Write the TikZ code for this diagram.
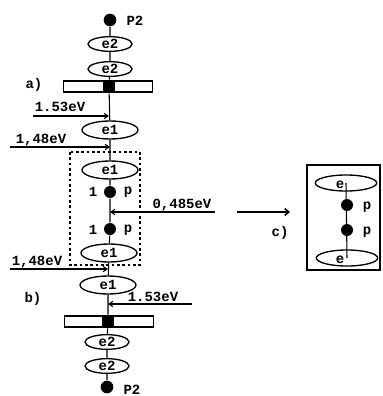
\documentclass[tikz,border=0pt]{standalone}
\usepackage{fontspec}
\setmainfont{Liberation Mono}
\usetikzlibrary{arrows.meta,shapes.geometric}
\begin{document}
\begin{tikzpicture}[x=0.75pt,y=-0.75pt,
  font=\bfseries\fontsize{10.5}{12}\selectfont,
  line width=0.8pt,
  elsmall/.style={draw,ellipse,line width=1pt,minimum width=33pt,minimum height=11pt,inner sep=0pt},
  elbig/.style={draw,ellipse,line width=1pt,minimum width=42pt,minimum height=13.5pt,inner sep=0pt},
  elright/.style={draw,ellipse,line width=1pt,minimum width=46pt,minimum height=12pt,inner sep=0pt},
  bigdot/.style={circle,fill=black,minimum size=9.5pt,inner sep=0pt},
  pdot/.style={circle,fill=black,minimum size=9pt,inner sep=0pt},
  bar/.style={draw,rectangle,line width=1pt,minimum width=66.75pt,minimum height=8.25pt,inner sep=0pt},
  sq/.style={rectangle,fill=black,minimum width=9.5pt,minimum height=9.5pt,inner sep=0pt},
  lbl/.style={inner sep=0pt},
  tip/.style={-{Straight Barb[length=3pt,width=4pt]}}
]
\useasboundingbox (0,0) rectangle (382,396);
% top chain
\node[bigdot] (P2t) at (110,20) {};
\node[lbl,anchor=west] (P2tl) at (126,21) {P2};
\node[elsmall] (e2a) at (110,44) {e2};
\node[elsmall] (e2b) at (110,69) {e2};
\node[bar] (bara) at (108,86.5) {};
\node[sq] (sqa) at (109,86.5) {};
\node[lbl] (la) at (34,85) {a)};
\node[elbig] (e1a) at (110,130) {e1};
\node[elbig] (e1b) at (110,170) {e1};
\node[pdot] (p1) at (110,192) {};
\node[lbl] (p1n) at (93,192) {1};
\node[lbl] (p1l) at (128,192) {p};
\node[pdot] (p2) at (110,229) {};
\node[lbl] (p2n) at (93,230) {1};
\node[lbl] (p2l) at (128,230) {p};
\node[elbig] (e1c) at (109,253) {e1};
\node[elbig] (e1d) at (108,285) {e1};
\node[lbl] (lb) at (33,299) {b)};
\node[bar] (barb) at (109,321.5) {};
\node[sq] (sqb) at (108,321.5) {};
\node[elsmall] (e2c) at (107,342) {e2};
\node[elsmall] (e2d) at (107,366) {e2};
\node[bigdot] (P2b) at (107,387) {};
\node[lbl,anchor=west] (P2bl) at (123,390) {P2};
% axis
\draw (P2t) -- (e2a) -- (e2b) -- (sqa) -- (e1a) -- (e1b) -- (p1) -- (p2) -- (e1c) -- (e1d) -- (sqb) -- (e2c) -- (e2d) -- (P2b);
% energy arrows
\coordinate (h1s) at (33,116);
\coordinate (h1) at (109,116);
\draw[tip] (h1s) -- (h1);
\node[lbl] (t1) at (60,107) {1.53eV};
\coordinate (h2s) at (10,147);
\coordinate (h2) at (110,147);
\draw[tip] (h2s) -- (h2);
\node[lbl] (t2) at (41,140) {1,48eV};
\coordinate (h3s) at (215,212);
\coordinate (h3) at (110,212);
\draw[tip] (h3s) -- (h3);
\node[lbl] (t3) at (182,205) {0,485eV};
\coordinate (h4s) at (10,269);
\coordinate (h4) at (108,269);
\draw[tip] (h4s) -- (h4);
\node[lbl] (t4) at (37,262) {1,48eV};
\coordinate (h5s) at (192,304);
\coordinate (h5) at (108,304);
\draw[tip] (h5s) -- (h5);
\node[lbl] (t5) at (153,297) {1.53eV};
% dashed box
\draw[dash pattern=on 2pt off 2pt] (70,152) rectangle (140,265);
% arrow to c)
\coordinate (ca) at (237,212);
\coordinate (cb) at (290,212);
\draw[line width=1.2pt,-{Straight Barb[length=3pt,width=5pt]}] (ca) -- (cb);
\node[lbl] (lc) at (280,233) {c)};
% right box
\draw (307,165) rectangle (380,270);
\node[elright] (re1) at (346,183) {};
\node[elright] (re2) at (347,258) {};
\draw (re1.center) -- (re2.center);
\node[lbl] (ret) at (340,185) {e};
\node[lbl] (reb) at (340,260) {e};
\node[pdot] (rp1) at (347,205) {};
\node[pdot] (rp2) at (347,230) {};
\node[lbl] (rp1l) at (367,207) {p};
\node[lbl] (rp2l) at (367,232) {p};
\end{tikzpicture}
\end{document}
